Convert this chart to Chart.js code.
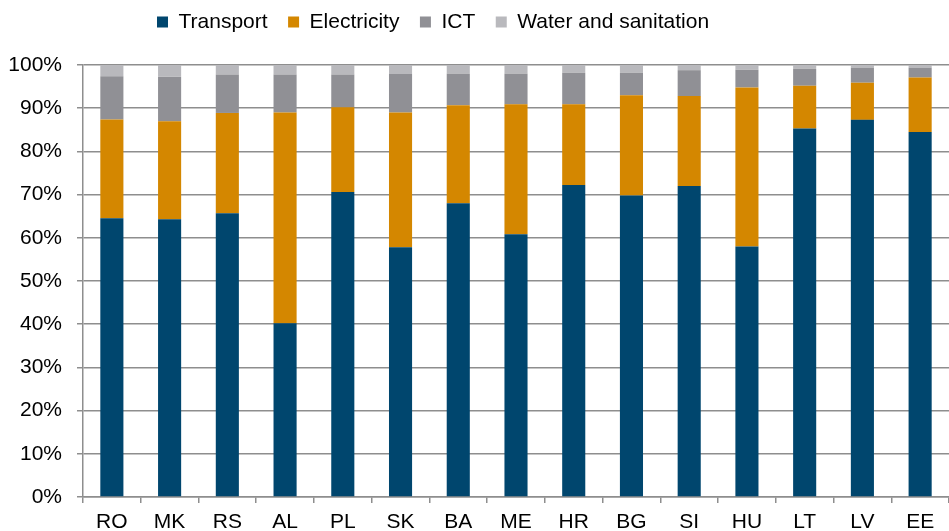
<!DOCTYPE html>
<html>
<head>
<meta charset="utf-8">
<script src="https://cdn.jsdelivr.net/npm/chart.js@4.4.0/dist/chart.umd.min.js"></script>
<style>
  html, body { margin: 0; padding: 0; background: #fff; }
  #wrap { width: 949px; height: 531px; }
</style>
</head>
<body>
<div id="wrap"><canvas id="chart"></canvas></div>
<script>
const countries = ['RO', 'MK', 'RS', 'AL', 'PL', 'SK', 'BA', 'ME', 'HR', 'BG', 'SI', 'HU', 'LT', 'LV', 'EE'];
const transport = [64.5, 64.3, 65.7, 40.2, 70.6, 57.8, 68.0, 60.8, 72.2, 69.8, 72.0, 58.0, 85.3, 87.3, 84.5];
const electricity = [22.9, 22.7, 23.2, 48.8, 19.6, 31.2, 22.7, 30.1, 18.7, 23.2, 20.8, 36.8, 9.9, 8.6, 12.6];
const ict = [10.0, 10.3, 8.9, 8.8, 7.6, 8.9, 7.3, 7.1, 7.3, 5.2, 6.0, 4.1, 3.9, 3.5, 2.3];
const water = [2.6, 2.7, 2.2, 2.2, 2.2, 2.1, 2.0, 2.0, 1.8, 1.8, 1.2, 1.1, 0.9, 0.6, 0.6];

const FONT = 'Liberation Sans, Arial, sans-serif';
const GRID = '#8e8e8e';

// legend sits left of centre in the original, and leaves a gap above the plot
const legendPlacer = {
    id: 'legendPlacer',
    beforeInit(chart) {
        const fit = chart.legend.fit;
        chart.legend.fit = function () {
            fit.bind(chart.legend)();
            this.height = 65;
        };
    },
    afterLayout(chart) {
        chart.legend.left = 136.5;
        chart.legend.top = -9;
    }
};

function series(label, data, color) {
    return {
        label: label,
        data: data,
        backgroundColor: color,
        borderWidth: 0,
        barPercentage: 0.4,
        categoryPercentage: 1.0
    };
}

new Chart(document.getElementById('chart').getContext('2d'), {
    type: 'bar',
    data: {
        labels: countries,
        datasets: [
            series('Transport', transport, '#00466e'),
            series('Electricity', electricity, '#d48700'),
            series('ICT', ict, '#909095'),
            series('Water and sanitation', water, '#b9b9bd')
        ]
    },
    options: {
        responsive: true,
        maintainAspectRatio: false,
        animation: false,
        layout: { padding: 0 },
        plugins: {
            legend: {
                position: 'top',
                align: 'start',
                labels: {
                    boxWidth: 11,
                    boxHeight: 11,
                    padding: 20.5,
                    color: '#000',
                    font: { family: FONT, size: 21 }
                }
            },
            tooltip: { enabled: false }
        },
        scales: {
            x: {
                stacked: true,
                grid: {
                    offset: true,
                    drawOnChartArea: false,
                    drawTicks: true,
                    tickLength: 6,
                    color: GRID,
                    lineWidth: 1.5
                },
                border: { display: true, color: GRID, width: 1.5 },
                ticks: {
                    color: '#000',
                    padding: 7,
                    maxRotation: 0,
                    autoSkip: false,
                    font: { family: FONT, size: 21 }
                },
                afterFit(scale) { scale.height = 34; }
            },
            y: {
                stacked: true,
                min: 0,
                max: 100,
                grid: {
                    color: GRID,
                    lineWidth: 1.5,
                    drawTicks: true,
                    tickLength: 6
                },
                border: { display: true, color: GRID, width: 1.5 },
                ticks: {
                    stepSize: 10,
                    color: '#000',
                    padding: 15,
                    font: { family: FONT, size: 21 },
                    callback: (v) => v + '%'
                },
                afterFit(scale) { scale.width = 83; }
            }
        }
    },
    plugins: [legendPlacer]
});
</script>
</body>
</html>
